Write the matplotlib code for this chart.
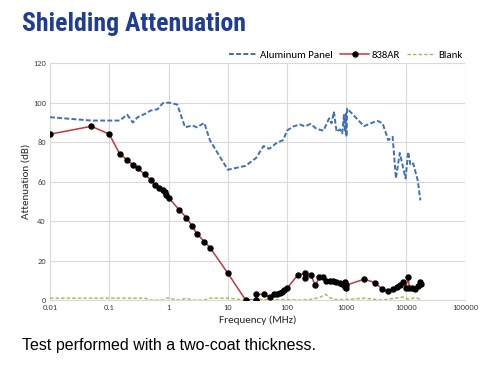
import matplotlib
matplotlib.use("Agg")
import matplotlib.pyplot as plt
from matplotlib.lines import Line2D
from matplotlib import font_manager

# ---------------- data ----------------
al_freq = [0.01, 0.05, 0.15, 0.2, 0.25, 0.3, 0.4, 0.5, 0.65, 0.8, 1.0, 1.4, 1.9, 2.5, 3, 4, 5,
           10, 20, 30, 40, 50, 66, 86, 100, 127, 163, 200, 250, 312, 410, 510, 560, 615, 683,
           777, 850, 908, 944, 980, 1000, 1030, 1970, 3300, 4080, 5070, 6020, 6840, 7940,
           9950, 11000, 12000, 13400, 15900, 17700]
al_val = [92.6, 90.9, 90.9, 93.9, 89.9, 92.6, 94.3, 96.0, 96.6, 99.7, 100.0, 99.0, 87.5, 88.4,
          87.5, 89.7, 80.8, 66.0, 68.0, 72.0, 78.0, 76.6, 79.5, 81.1, 85.9, 87.9, 88.9, 88.0,
          89.2, 86.7, 85.8, 92.0, 89.5, 95.4, 85.2, 86.4, 84.4, 93.7, 85.2, 94.5, 82.7, 97.0,
          88.1, 90.8, 89.5, 81.0, 82.7, 61.6, 74.5, 61.6, 75.1, 68.4, 69.2, 60.8, 50.5]

ar_freq = [0.01, 0.05, 0.1, 0.15, 0.2, 0.25, 0.3, 0.4, 0.5, 0.6, 0.7, 0.8, 0.86, 0.9, 1.0,
           1.5, 2, 2.5, 3, 4, 5, 10, 20, 30, 30, 40, 51, 60, 68, 75, 82, 90, 100, 150, 200,
           200, 250, 300, 350, 400, 450, 525, 600, 680, 770, 850, 930, 930, 1000, 1000, 2000,
           3000, 4000, 5000, 6000, 7000, 8000, 9000, 10000, 11000, 11500, 13000, 14500,
           16000, 17200, 18000]
ar_val = [84, 88, 84, 74, 71, 68.5, 66.7, 63.6, 60.8, 58.4, 56.9, 55.9, 54.5, 53.4, 51.9,
          45.8, 41.8, 37.5, 33.7, 29.6, 26.6, 13.6, 0, 0, 2.9, 2.9, 1.7, 2.9, 2.9, 3.7, 4.2,
          5.0, 6.0, 12.6, 13.5, 11.4, 12.6, 7.6, 11.6, 11.6, 9.8, 9.8, 9.6, 9.3, 8.8, 8.1,
          9.3, 6.7, 5.9, 7.6, 10.6, 8.9, 5.7, 4.5, 5.7, 6.6, 7.9, 9.3, 6.2, 11.8, 6.2, 6.2,
          5.6, 7.2, 9.4, 8.4]

bl_freq = [0.01, 0.1, 0.4, 0.5, 0.8, 0.9, 1.0, 1.5, 2, 2.5, 4, 5, 10, 20, 30, 50, 100, 160,
           240, 350, 450, 520, 650, 1000, 2000, 4000, 6000, 9000, 11000, 15000, 17500]
bl_val = [1, 1, 1, 0, 0, 1, 1, 0, 1, 0, 0, 1, 1, 0, 0.5, 0.3, 0.3, 0, 0.3, 1.3, 2.9, 1.3,
          0.3, 0.3, 1.0, 0, 0.8, 1.6, 0.5, 1.3, 0.3]

xticks = [0.01, 0.1, 1, 10, 100, 1000, 10000, 100000]
xtick_labels = ["0.01", "0.1", "1", "10", "100", "1000", "10000", "100000"]
yticks = [0, 20, 40, 60, 80, 100, 120]

title_text = "Shielding Attenuation"
caption_text = "Test performed with a two-coat thickness."
series_names = ["Aluminum Panel", "838AR", "Blank"]

# ---------------- style ----------------
c_al = "#3f6fb8"
c_ar = "#c0393b"
c_bl = "#9bbb59"
c_title = "#1f3c96"

all_fonts = {f.name for f in font_manager.fontManager.ttflist}
bold_fonts = {f.name for f in font_manager.fontManager.ttflist if f.weight >= 600}
title_family = "DejaVu Sans"
for cand in ["Roboto Condensed", "Archivo Narrow", "PT Sans Narrow", "Open Sans Condensed",
             "Liberation Sans Narrow", "Fira Sans Condensed", "IBM Plex Sans Condensed"]:
    if cand in bold_fonts:
        title_family = cand
        break
chart_family = "Open Sans"
for cand in ["Carlito", "Calibri"]:
    if cand in all_fonts:
        chart_family = cand
        break

fig = plt.figure(figsize=(5.0, 3.71), dpi=100)
ax = fig.add_axes([0.10, 0.191, 0.83, 0.639])

ax.plot(al_freq, al_val, color=c_al, lw=1.4, ls=(0, (2.5, 1.2)), zorder=3)
ax.plot(ar_freq, ar_val, color=c_ar, lw=1.1, marker="o", ms=3.6,
        mfc="black", mec="black", zorder=4)
ax.plot(bl_freq, bl_val, color=c_bl, lw=1.0, ls=(0, (2.5, 1.5)), zorder=2)

ax.set_xscale("log")
ax.set_xlim(0.01, 100000)
ax.set_ylim(0, 120)
ax.set_xticks(xticks)
ax.set_xticklabels(xtick_labels, family=chart_family)
ax.minorticks_off()
ax.set_yticks(yticks)
ax.set_yticklabels([str(v) for v in yticks], family=chart_family)
ax.grid(True, color="#d9d9d9", lw=0.8)
ax.set_axisbelow(True)
for s in ["top", "right", "left"]:
    ax.spines[s].set_visible(False)
ax.spines["bottom"].set_color("#d9d9d9")
ax.tick_params(length=0, labelsize=6, colors="#404040", pad=3)

ax.set_xlabel("Frequency (MHz)", fontsize=8, color="#262626", labelpad=3, family=chart_family)
ax.set_ylabel("Attenuation (dB)", fontsize=8, color="#262626", labelpad=1.5, family=chart_family)

handles = [
    Line2D([], [], color=c_al, lw=1.4, ls=(0, (2.5, 1.2))),
    Line2D([], [], color=c_ar, lw=1.1, marker="o", ms=3.6, mfc="black", mec="black"),
    Line2D([], [], color=c_bl, lw=1.0, ls=(0, (2.5, 1.5))),
]
fig.legend(handles, series_names, loc="center right", bbox_to_anchor=(0.94, 0.852),
           ncol=3, frameon=False, prop={"family": chart_family, "size": 7.8},
           handlelength=2.6, handletextpad=0.25, columnspacing=0.7, borderpad=0.2)

fig.text(0.044, 0.935, title_text, fontsize=18.5, fontweight="bold", color=c_title,
         family=title_family, va="center", ha="left")
fig.text(0.044, 0.07, caption_text, fontsize=11.5, color="black",
         family="Liberation Sans", va="center", ha="left")

fig.savefig("out.png", dpi=100)
